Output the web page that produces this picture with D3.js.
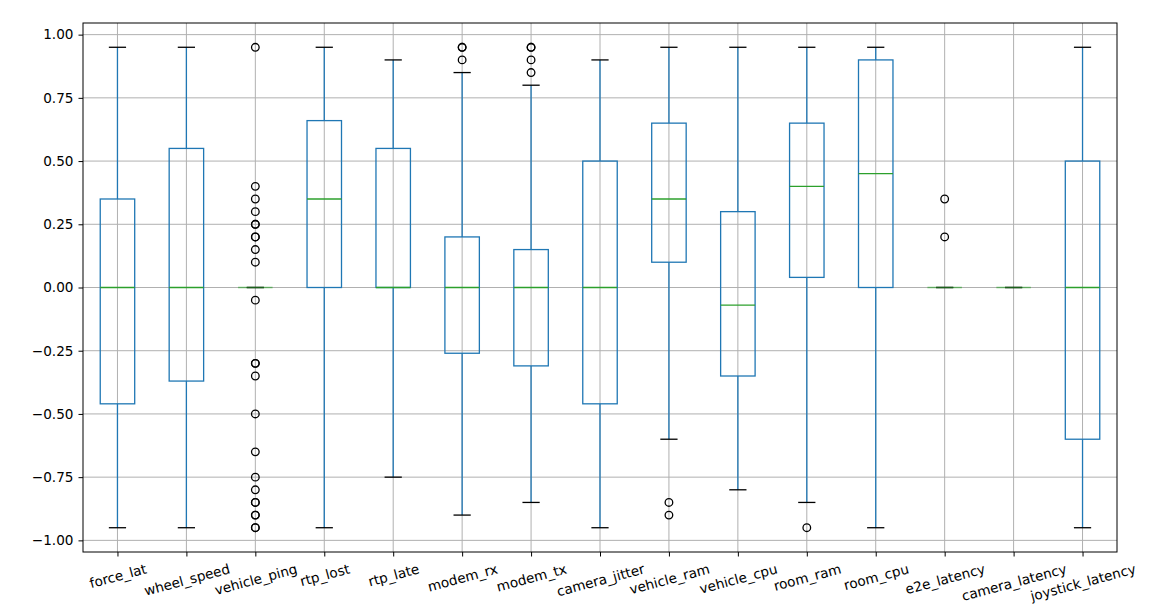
<!DOCTYPE html>
<html>
<head>
<meta charset="utf-8">
<script src="https://cdn.jsdelivr.net/npm/d3@7"></script>
<style>
  body { margin: 0; background: #fff; }
  text { font-family: "DejaVu Sans", sans-serif; }
</style>
</head>
<body>
<script>
// box stats
var categories = ["force_lat","wheel_speed","vehicle_ping","rtp_lost","rtp_late","modem_rx","modem_tx",
  "camera_jitter","vehicle_ram","vehicle_cpu","room_ram","room_cpu","e2e_latency","camera_latency","joystick_latency"];
var whiskLow  = [-0.95,-0.95, 0,-0.95,-0.75,-0.90,-0.85,-0.95,-0.60,-0.80,-0.85,-0.95, 0, 0,-0.95];
var q1        = [-0.46,-0.37, 0, 0.00, 0.00,-0.26,-0.31,-0.46, 0.10,-0.35, 0.04, 0.00, 0, 0,-0.60];
var median    = [ 0.00, 0.00, 0, 0.35, 0.00, 0.00, 0.00, 0.00, 0.35,-0.07, 0.40, 0.45, 0, 0, 0.00];
var q3        = [ 0.35, 0.55, 0, 0.66, 0.55, 0.20, 0.15, 0.50, 0.65, 0.30, 0.65, 0.90, 0, 0, 0.50];
var whiskHigh = [ 0.95, 0.95, 0, 0.95, 0.90, 0.85, 0.80, 0.90, 0.95, 0.95, 0.95, 0.95, 0, 0, 0.95];
var outliers = [
  [], [],
  [0.95,0.4,0.35,0.3,0.25,0.25,0.2,0.2,0.15,0.1,-0.05,-0.3,-0.3,-0.35,-0.5,-0.65,-0.75,-0.8,-0.85,-0.85,-0.9,-0.9,-0.95,-0.95],
  [], [],
  [0.9,0.95,0.95],
  [0.85,0.9,0.95,0.95],
  [],
  [-0.85,-0.9],
  [],
  [-0.95],
  [],
  [0.35,0.2],
  [], []
];
var yTicks = [-1.0,-0.75,-0.5,-0.25,0,0.25,0.5,0.75,1.0];

var W = 1167, H = 609;
var m = {left: 83, right: 50, top: 23, bottom: 57};
var fs = 13.6;

var svg = d3.select("body").append("svg").attr("width", W).attr("height", H);

var x = d3.scaleLinear().domain([0.5, categories.length + 0.5]).range([m.left, W - m.right]);
var y = d3.scaleLinear().domain([-1.046, 1.046]).range([H - m.bottom, m.top]);

var g = svg.append("g");

// grid
g.selectAll(".gy").data(yTicks).enter().append("line")
  .attr("x1", m.left).attr("x2", W - m.right)
  .attr("y1", function(d){ return y(d); }).attr("y2", function(d){ return y(d); })
  .attr("stroke", "#b0b0b0").attr("stroke-width", 1);
g.selectAll(".gx").data(categories).enter().append("line")
  .attr("x1", function(d,i){ return x(i+1); }).attr("x2", function(d,i){ return x(i+1); })
  .attr("y1", m.top).attr("y2", H - m.bottom)
  .attr("stroke", "#b0b0b0").attr("stroke-width", 1);

var lw = 1.3;
var boxes = g.selectAll(".box").data(categories).enter().append("g");

// whiskers
boxes.append("line")
  .attr("x1", function(d,i){ return x(i+1); }).attr("x2", function(d,i){ return x(i+1); })
  .attr("y1", function(d,i){ return y(q3[i]); }).attr("y2", function(d,i){ return y(whiskHigh[i]); })
  .attr("stroke", "#1f77b4").attr("stroke-width", lw);
boxes.append("line")
  .attr("x1", function(d,i){ return x(i+1); }).attr("x2", function(d,i){ return x(i+1); })
  .attr("y1", function(d,i){ return y(q1[i]); }).attr("y2", function(d,i){ return y(whiskLow[i]); })
  .attr("stroke", "#1f77b4").attr("stroke-width", lw);

// caps
[whiskLow, whiskHigh].forEach(function(arr){
  boxes.append("line")
    .attr("x1", function(d,i){ return x(i+1-0.125); }).attr("x2", function(d,i){ return x(i+1+0.125); })
    .attr("y1", function(d,i){ return y(arr[i]); }).attr("y2", function(d,i){ return y(arr[i]); })
    .attr("stroke", "#000").attr("stroke-width", lw);
});

// box
boxes.append("rect")
  .attr("x", function(d,i){ return x(i+1-0.25); })
  .attr("width", function(d,i){ return x(i+1.25) - x(i+0.75); })
  .attr("y", function(d,i){ return y(q3[i]); })
  .attr("height", function(d,i){ return y(q1[i]) - y(q3[i]); })
  .attr("fill", "none").attr("stroke", "#1f77b4").attr("stroke-width", lw);

// median
boxes.append("line")
  .attr("x1", function(d,i){ return x(i+1-0.25); }).attr("x2", function(d,i){ return x(i+1+0.25); })
  .attr("y1", function(d,i){ return y(median[i]); }).attr("y2", function(d,i){ return y(median[i]); })
  .attr("stroke", "#2ca02c").attr("stroke-width", lw)
  .attr("stroke-opacity", function(d,i){ return q1[i] === q3[i] ? 0.6 : 1; });

// fliers
boxes.each(function(d,i){
  d3.select(this).selectAll("circle").data(outliers[i]).enter().append("circle")
    .attr("cx", x(i+1)).attr("cy", function(v){ return y(v); }).attr("r", 3.8)
    .attr("fill", "none").attr("stroke", "#000").attr("stroke-width", 1.3);
});

// frame
svg.append("rect").attr("x", m.left).attr("y", m.top)
  .attr("width", W - m.right - m.left).attr("height", H - m.bottom - m.top)
  .attr("fill", "none").attr("stroke", "#000").attr("stroke-width", 1);

// y axis
var yAxis = svg.append("g").attr("transform", "translate(" + m.left + ",0)")
  .call(d3.axisLeft(y).tickValues(yTicks).tickSize(4.5).tickPadding(5)
    .tickFormat(function(d){ return d3.format(".2f")(d).replace("-", "\u2212"); }));
yAxis.select(".domain").remove();
yAxis.selectAll("text").attr("font-size", fs).attr("font-family", "DejaVu Sans").attr("fill", "#000");

// x axis
var xAxis = svg.append("g").attr("transform", "translate(0," + (H - m.bottom) + ")")
  .call(d3.axisBottom(x).tickValues(d3.range(1, categories.length + 1)).tickSize(4.5)
    .tickFormat(function(d){ return categories[d-1]; }));
xAxis.select(".domain").remove();
var rot = 15 * Math.PI / 180;
xAxis.selectAll("text").each(function(){
  var t = d3.select(this).attr("font-size", fs).attr("font-family", "DejaVu Sans").attr("fill", "#000");
  var w = this.getComputedTextLength(), h = fs * 1.1;
  var bh = w * Math.sin(rot) + h * Math.cos(rot);
  var cy = 9 + bh / 2;
  t.attr("y", 0).attr("dy", null).attr("dominant-baseline", "central")
   .attr("transform", "translate(0," + cy + ") rotate(-15)");
});
</script>
</body>
</html>
